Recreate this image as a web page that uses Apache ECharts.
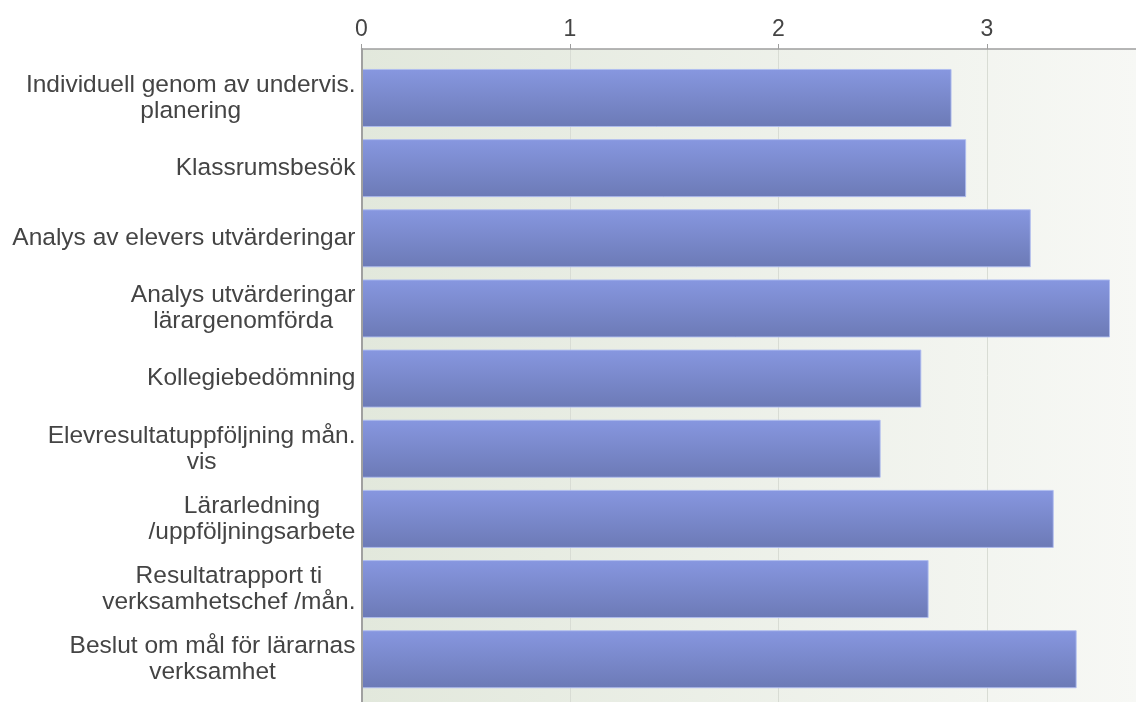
<!DOCTYPE html>
<html>
<head>
<meta charset="utf-8">
<script src="https://cdn.jsdelivr.net/npm/echarts@6/dist/echarts.min.js"></script>
<style>
html,body{margin:0;padding:0;background:#fff;overflow:hidden;}
#c{width:1136px;height:702px;}
</style>
</head>
<body>
<div id="c"></div>
<script>
const categories = [
  "Individuell genom av undervis.\nplanering",
  "Klassrumsbesök",
  "Analys av elevers utvärderingar",
  "Analys utvärderingar\nlärargenomförda",
  "Kollegiebedömning",
  "Elevresultatuppföljning mån.\nvis",
  "Lärarledning\n/uppföljningsarbete",
  "Resultatrapport ti\nverksamhetschef /mån.",
  "Beslut om mål för lärarnas\nverksamhet"
];
const values = [2.83, 2.90, 3.21, 3.59, 2.685, 2.49, 3.32, 2.72, 3.43];
const axisMin = 0;
const axisMax = 3.7247;
const axisStep = 1;

const FONT = "'Liberation Sans', Arial, sans-serif";
const chart = echarts.init(document.getElementById('c'), null, {renderer: 'canvas'});

chart.setOption({
  animation: false,
  backgroundColor: '#ffffff',
  grid: [
    {
      left: 361.5, width: 776.6, top: 49, bottom: 0,
      outerBoundsMode: 'none', containLabel: false,
      show: true, borderWidth: 0,
      backgroundColor: new echarts.graphic.LinearGradient(0, 0, 1, 0, [
        {offset: 0, color: '#e2e8dc'},
        {offset: 1, color: '#f7f8f5'}
      ])
    },
    { left: 361.5, width: 776.6, top: 62.9, bottom: 7.7, outerBoundsMode: 'none', containLabel: false }
  ],
  xAxis: [
    {
      gridIndex: 0, type: 'value', position: 'top',
      min: axisMin, max: axisMax, interval: axisStep,
      axisLine: {show: true, onZero: false, lineStyle: {color: '#9e9e9e', width: 1.5}},
      axisTick: {show: true, length: 5, lineStyle: {color: '#9e9e9e', width: 1}},
      axisLabel: {
        show: true, margin: 8, color: '#444', fontSize: 23, fontFamily: FONT,
        formatter: v => (Math.abs(v - Math.round(v)) < 1e-9 ? String(Math.round(v)) : '')
      },
      splitLine: {show: true, showMaxLine: false, showMinLine: false, lineStyle: {color: '#d8dcd4', width: 1}},
      z: 1
    },
    {
      gridIndex: 1, type: 'value', min: axisMin, max: axisMax, interval: axisStep,
      show: false
    }
  ],
  yAxis: [
    {
      gridIndex: 0, type: 'value', min: 0, max: 1,
      axisLine: {show: true, onZero: false, lineStyle: {color: '#a0a0a0', width: 2}},
      axisTick: {show: false}, axisLabel: {show: false}, splitLine: {show: false},
      z: 5
    },
    {
      gridIndex: 1, type: 'category', inverse: true, data: categories,
      axisLine: {show: false}, axisTick: {show: false}, splitLine: {show: false},
      axisLabel: {
        margin: 6,
        formatter: v => v.split('\n').map(l => '{c|' + l + '}').join('\n'),
        rich: {
          c: {align: 'center', fontSize: 24.5, lineHeight: 26, color: '#444', fontFamily: FONT}
        }
      }
    }
  ],
  series: [{
    type: 'bar',
    xAxisIndex: 1, yAxisIndex: 1,
    data: values,
    barWidth: 58,
    itemStyle: {
      color: new echarts.graphic.LinearGradient(0, 0, 0, 1, [
        {offset: 0, color: '#8797e0'},
        {offset: 1, color: '#6c7ab6'}
      ]),
      borderColor: 'rgba(175,188,240,0.9)',
      borderWidth: 1
    },
    z: 2
  }]
});
</script>
</body>
</html>
